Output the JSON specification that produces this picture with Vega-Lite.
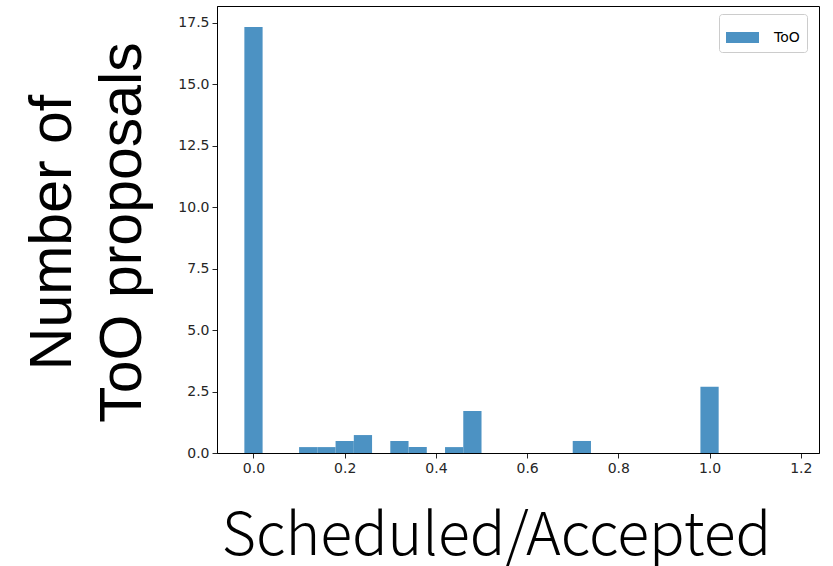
{
  "$schema": "https://vega.github.io/schema/vega-lite/v6.json",
  "width": 602,
  "height": 447,
  "autosize": "none",
  "padding": {"left": 217, "top": 6, "right": 14, "bottom": 113},
  "background": "white",
  "config": {
    "view": {"stroke": "#000000", "strokeWidth": 1},
    "font": "DejaVu Sans"
  },
  "data": {
    "values": [
      {"bin_start": -0.02, "bin_end": 0.02, "count": 17.34, "series": "ToO"},
      {"bin_start": 0.10, "bin_end": 0.14, "count": 0.24, "series": "ToO"},
      {"bin_start": 0.14, "bin_end": 0.18, "count": 0.24, "series": "ToO"},
      {"bin_start": 0.18, "bin_end": 0.22, "count": 0.49, "series": "ToO"},
      {"bin_start": 0.22, "bin_end": 0.26, "count": 0.73, "series": "ToO"},
      {"bin_start": 0.30, "bin_end": 0.34, "count": 0.49, "series": "ToO"},
      {"bin_start": 0.34, "bin_end": 0.38, "count": 0.24, "series": "ToO"},
      {"bin_start": 0.42, "bin_end": 0.46, "count": 0.24, "series": "ToO"},
      {"bin_start": 0.46, "bin_end": 0.50, "count": 1.71, "series": "ToO"},
      {"bin_start": 0.70, "bin_end": 0.74, "count": 0.49, "series": "ToO"},
      {"bin_start": 0.98, "bin_end": 1.02, "count": 2.70, "series": "ToO"}
    ]
  },
  "mark": {"type": "bar"},
  "encoding": {
    "x": {
      "field": "bin_start",
      "type": "quantitative",
      "scale": {"domain": [-0.08, 1.24], "nice": false, "zero": false},
      "axis": {
        "values": [0, 0.2, 0.4, 0.6, 0.8, 1.0, 1.2],
        "format": ".1f",
        "grid": false,
        "domainColor": "#000000",
        "tickColor": "#262626",
        "tickSize": 5,
        "labelFontSize": 14,
        "labelColor": "#262626",
        "labelPadding": 3,
        "title": "Scheduled/Accepted",
        "titleFont": "Noto Sans CJK JP",
        "titleFontSize": 59,
        "titleFontWeight": 300,
        "titleColor": "#000000",
        "titleX": 279,
        "titleY": 101,
        "titleAlign": "center",
        "titleBaseline": "alphabetic"
      }
    },
    "x2": {"field": "bin_end"},
    "y": {
      "field": "count",
      "type": "quantitative",
      "scale": {"domain": [0, 18.19], "nice": false},
      "axis": {
        "values": [0, 2.5, 5, 7.5, 10, 12.5, 15, 17.5],
        "format": ".1f",
        "grid": false,
        "domainColor": "#000000",
        "tickColor": "#262626",
        "tickSize": 5,
        "labelFontSize": 14,
        "labelColor": "#262626",
        "labelPadding": 3,
        "title": ["Number of", "ToO proposals"],
        "titleFont": "Liberation Sans",
        "titleFontSize": 59,
        "titleFontWeight": "normal",
        "titleColor": "#000000",
        "titleAngle": 270,
        "titleX": -147,
        "titleY": 226,
        "titleAlign": "center",
        "titleBaseline": "alphabetic",
        "titleLineHeight": 70
      }
    },
    "y2": {"datum": 0},
    "color": {
      "field": "series",
      "type": "nominal",
      "scale": {"range": ["#4c92c3"]},
      "legend": {
        "orient": "none",
        "legendX": 502,
        "legendY": 8,
        "title": null,
        "symbolType": "M-1,-0.333L1,-0.333L1,0.333L-1,0.333Z",
        "symbolSize": 1089,
        "symbolStrokeWidth": 0,
        "symbolOpacity": 1,
        "labelFontSize": 14,
        "labelColor": "#000000",
        "labelOffset": 15,
        "padding": 7,
        "strokeColor": "#cccccc",
        "fillColor": "white",
        "cornerRadius": 3
      }
    }
  }
}
